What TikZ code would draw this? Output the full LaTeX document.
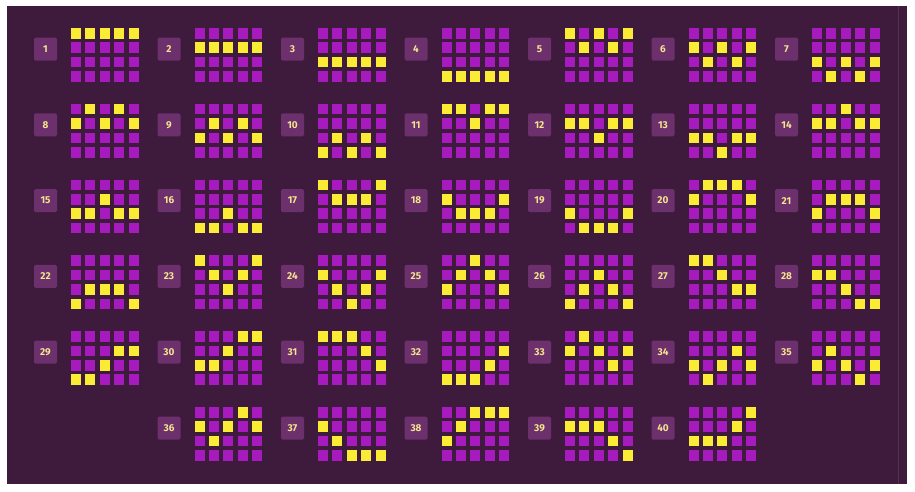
\documentclass[tikz,border=0pt]{standalone}
\usepackage{fontspec}
\setmainfont{Fira Sans}
\definecolor{bgc}{RGB}{62,27,60}
\definecolor{cellc}{RGB}{166,26,190}
\definecolor{hitc}{RGB}{250,236,52}
\definecolor{badgec}{RGB}{108,48,108}
\definecolor{numc}{RGB}{244,228,140}
\begin{document}
\begin{tikzpicture}[x=1pt,y=-1pt,
  cell/.style={fill=cellc},
  hit/.style={fill=hitc},
  badge/.style={fill=badgec, minimum size=23pt, inner sep=0pt, text=numc,
    font=\bfseries\fontsize{10}{10}\selectfont, rounded corners=1.5pt}]
\useasboundingbox (0,0) rectangle (915,491);
\fill[white] (0,0) rectangle (915,491);
\fill[bgc] (7,6) rectangle (907,484);
\draw[bgc!80!white, line width=0.6pt, opacity=0.5] (898,6) -- (898,484);
\foreach \n/\c/\r/\p in {
  1/1/1/{0,0,0,0,0}, 2/2/1/{1,1,1,1,1}, 3/3/1/{2,2,2,2,2}, 4/4/1/{3,3,3,3,3},
  5/5/1/{0,1,0,1,0}, 6/6/1/{1,2,1,2,1}, 7/7/1/{2,3,2,3,2},
  8/1/2/{1,0,1,0,1}, 9/2/2/{2,1,2,1,2}, 10/3/2/{3,2,3,2,3}, 11/4/2/{0,0,1,0,0},
  12/5/2/{1,1,2,1,1}, 13/6/2/{2,2,3,2,2}, 14/7/2/{1,1,0,1,1},
  15/1/3/{2,2,1,2,2}, 16/2/3/{3,3,2,3,3}, 17/3/3/{0,1,1,1,0}, 18/4/3/{1,2,2,2,1},
  19/5/3/{2,3,3,3,2}, 20/6/3/{1,0,0,0,1}, 21/7/3/{2,1,1,1,2},
  22/1/4/{3,2,2,2,3}, 23/2/4/{0,1,2,1,0}, 24/3/4/{1,2,3,2,1}, 25/4/4/{2,1,0,1,2},
  26/5/4/{3,2,1,2,3}, 27/6/4/{0,0,1,2,2}, 28/7/4/{1,1,2,3,3},
  29/1/5/{3,3,2,1,1}, 30/2/5/{2,2,1,0,0}, 31/3/5/{0,0,0,1,2}, 32/4/5/{3,3,3,2,1},
  33/5/5/{1,0,1,2,1}, 34/6/5/{2,3,2,1,2}, 35/7/5/{2,1,2,3,2},
  36/2/6/{1,2,1,0,1}, 37/3/6/{1,2,3,3,3}, 38/4/6/{2,1,0,0,0},
  39/5/6/{1,1,1,2,3}, 40/6/6/{2,2,2,1,0}}{
  \pgfmathsetmacro\gx{71+(\c-1)*123.5}
  \pgfmathsetmacro\gy{28+(\r-1)*75.8}
  \node[badge] (b\n) at (\gx-25.5,\gy+21) {\n};
  \foreach \i in {0,...,4}{
    \foreach \j in {0,...,3}{
      \fill[cell] (\gx+\i*14.4,\gy+\j*14.4) rectangle ++(10,10.5);
    }
  }
  \foreach \v [count=\k from 0] in \p {
    \fill[hit] (\gx+\k*14.4,\gy+\v*14.4) rectangle ++(10,10.5);
  }
}
\end{tikzpicture}
\end{document}
